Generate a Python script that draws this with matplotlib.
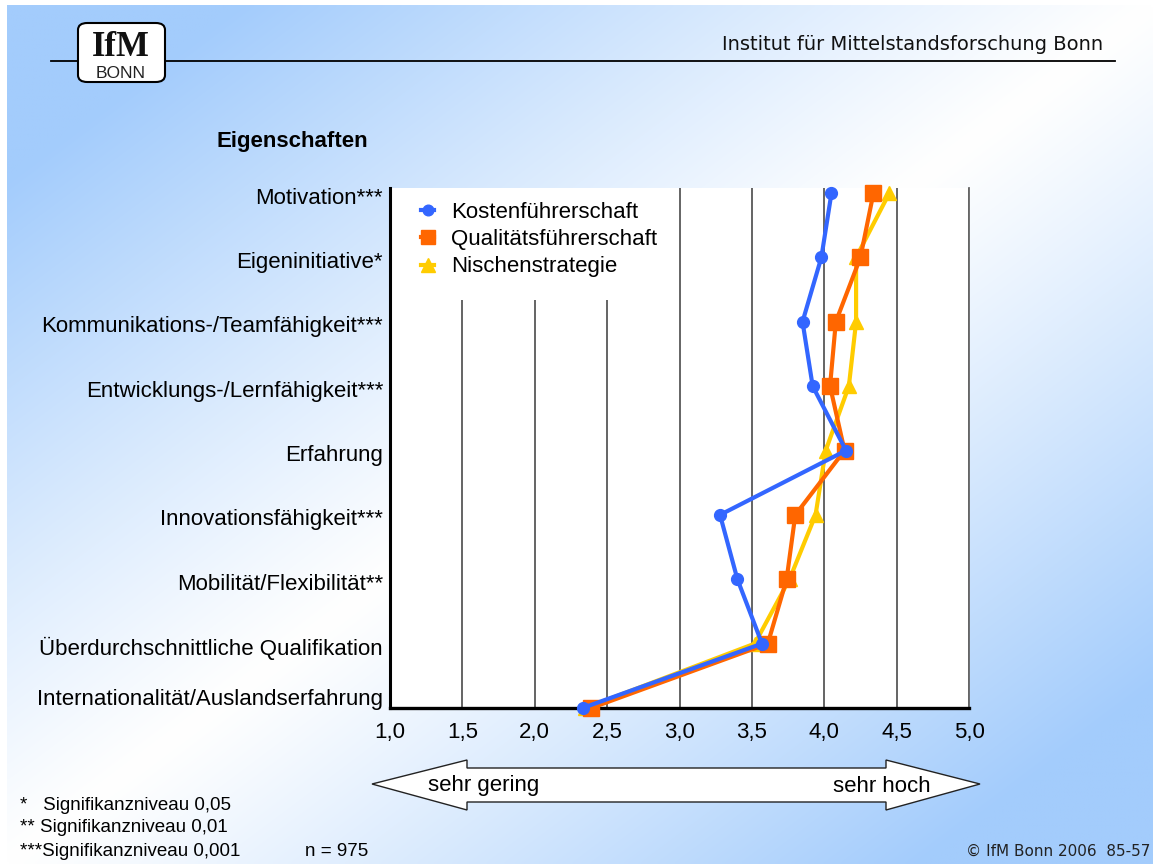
import numpy as np
import matplotlib
matplotlib.use("Agg")
import matplotlib.pyplot as plt
from matplotlib.patches import FancyBboxPatch, Polygon, Rectangle
from matplotlib.lines import Line2D
from matplotlib import font_manager
import matplotlib.transforms as mtransforms

# ---------------- data ----------------
categories = [
    "Motivation***",
    "Eigeninitiative*",
    "Kommunikations-/Teamfähigkeit***",
    "Entwicklungs-/Lernfähigkeit***",
    "Erfahrung",
    "Innovationsfähigkeit***",
    "Mobilität/Flexibilität**",
    "Überdurchschnittliche Qualifikation",
    "Internationalität/Auslandserfahrung",
]
kosten = [4.05, 3.98, 3.85, 3.92, 4.15, 3.28, 3.40, 3.57, 2.33]
qualitaet = [4.34, 4.25, 4.08, 4.04, 4.14, 3.80, 3.74, 3.61, 2.39]
nische = [4.45, 4.22, 4.22, 4.17, 4.01, 3.94, 3.76, 3.52, 2.35]
series_names = ["Kostenführerschaft", "Qualitätsführerschaft", "Nischenstrategie"]
xticks = [1.0, 1.5, 2.0, 2.5, 3.0, 3.5, 4.0, 4.5, 5.0]
xticklabels = ["1,0", "1,5", "2,0", "2,5", "3,0", "3,5", "4,0", "4,5", "5,0"]
footnotes = ["*   Signifikanzniveau 0,05", "** Signifikanzniveau 0,01", "***Signifikanzniveau 0,001"]

# ---------------- figure ----------------
W, H = 1153, 864
fig = plt.figure(figsize=(W / 100, H / 100), dpi=100)
fig.patch.set_facecolor("white")

def fx(x):
    return x / W

def fy(y):
    return 1 - y / H

ARIAL = ["Liberation Sans", "DejaVu Sans"]
names = {f.name for f in font_manager.fontManager.ttflist}
if "Liberation Sans Narrow" in names:
    NARROW, NARROW_SIZE = ["Liberation Sans Narrow", "Liberation Sans"], 16
else:
    NARROW, NARROW_SIZE = ARIAL, 13.5

# background gradient
bg = fig.add_axes([fx(7), 0, 1 - fx(7), fy(5)])
bg.set_axis_off()
bg.set_zorder(-10)
nx, ny = 300, 230
xs = np.linspace(0, 1, nx)[None, :]
ys = np.linspace(0, 1, ny)[:, None]
t = (xs + ys) / 2
b = np.clip(np.abs(2 * t - 1) * 1.25, 0, 1) ** 1.1
blue = np.array([163, 204, 252]) / 255
white = np.array([1.0, 1.0, 1.0])
img = white[None, None, :] * (1 - b[..., None]) + blue[None, None, :] * b[..., None]
bg.imshow(img, aspect="auto", extent=[0, 1, 1, 0], interpolation="bilinear")
bg.set_xlim(0, 1)
bg.set_ylim(1, 0)

# header line and text
fig.add_artist(Line2D([fx(51), fx(1115)], [fy(61), fy(61)], color="black", lw=1.3, transform=fig.transFigure))
fig.text(fx(1103), fy(45), "Institut für Mittelstandsforschung Bonn", ha="right", va="center",
         fontsize=14, family=["DejaVu Sans"], color="#111111")

# logo
logo = FancyBboxPatch((fx(78), fy(82)), fx(165) - fx(78), fy(23) - fy(82),
                      boxstyle="round,pad=0,rounding_size=0.008", transform=fig.transFigure,
                      facecolor="white", edgecolor="black", lw=1.5, zorder=3)
fig.add_artist(logo)
fig.text(fx(121), fy(56), "IfM", ha="center", va="baseline", fontsize=25, fontweight="bold",
         family=["Liberation Serif", "DejaVu Serif"], color="#111111", zorder=4)
fig.text(fx(121), fy(78.5), "BONN", ha="center", va="baseline", fontsize=12.5,
         family=ARIAL, color="#222222", zorder=4)

# section title
fig.text(fx(292), fy(142), "Eigenschaften", ha="center", va="center", fontsize=16,
         fontweight="bold", family=ARIAL)

# ---------------- main axes ----------------
ax = fig.add_axes([fx(390), fy(708), fx(969) - fx(390), fy(188) - fy(708)])
ax.set_facecolor("white")
ax.set_xlim(1.0, 5.0)
ypos = np.arange(len(categories))
ax.set_ylim(len(categories) - 1, -0.078)
ax.set_axisbelow(True)
ax.set_xticks(xticks)
ax.set_xticklabels(xticklabels, fontsize=16, family=ARIAL)
ax.tick_params(axis="x", length=0, pad=10)
ax.set_yticks([])
ax.xaxis.grid(True, color="#3a3a3a", lw=1.1)
ax.spines["top"].set_visible(False)
ax.spines["left"].set_color("black")
ax.spines["left"].set_linewidth(2.2)
ax.spines["bottom"].set_color("black")
ax.spines["bottom"].set_linewidth(2.4)
ax.spines["right"].set_color("#666666")
ax.spines["right"].set_linewidth(1.3)

# white box behind legend (hides grid lines)
ax.add_patch(Rectangle((0, 1 - (300 - 188) / 520), (672 - 390) / 579, (300 - 188) / 520,
                       transform=ax.transAxes, facecolor="white", edgecolor="none", zorder=1))

# category labels
ytrans = ax.get_yaxis_transform()
for i, lab in enumerate(categories):
    dy = -5 if i < len(categories) - 1 else 8
    tr = ytrans + mtransforms.ScaledTranslation(-7 / 100, dy / 100, fig.dpi_scale_trans)
    ax.text(0, ypos[i], lab, transform=tr, ha="right", va="center", fontsize=16, family=ARIAL)

# data lines
ln_n, = ax.plot(nische, ypos, color="#FFCC00", lw=3, marker="^", ms=10.5, mec="#FFCC00",
                zorder=3, clip_on=False, solid_joinstyle="miter")
ln_q, = ax.plot(qualitaet, ypos, color="#FF6600", lw=3, marker="s", ms=11, mec="#FF6600",
                zorder=4, clip_on=False, solid_joinstyle="miter")
ln_k, = ax.plot(kosten, ypos, color="#3366FF", lw=3, marker="o", ms=8.5, mec="#3366FF",
                zorder=5, clip_on=False, solid_joinstyle="miter")

leg = ax.legend([ln_k, ln_q, ln_n], series_names, loc="upper left",
                bbox_to_anchor=(fx(421), fy(202)), bbox_transform=fig.transFigure,
                frameon=False, prop={"family": ARIAL, "size": 16},
                handlelength=0.6, handletextpad=0.75, labelspacing=0.28,
                borderpad=0, borderaxespad=0, markerscale=0.9)
leg.set_zorder(6)

# ---------------- bottom arrow ----------------
arrow_px = [(372, 784), (467, 760), (467, 768), (886, 768), (886, 760), (980, 784),
            (886, 810), (886, 802), (467, 802), (467, 810)]
arrow = Polygon([(fx(x), fy(y)) for x, y in arrow_px], closed=True, transform=fig.transFigure,
                facecolor="white", edgecolor="#222222", lw=1.0)
fig.add_artist(arrow)
fig.text(fx(428), fy(786), "sehr gering", ha="left", va="center", fontsize=16, family=ARIAL)
fig.text(fx(931), fy(786), "sehr hoch", ha="right", va="center", fontsize=16, family=ARIAL)

# footnotes
for i, note in enumerate(footnotes):
    fig.text(fx(20), fy(805 + 23 * i), note, ha="left", va="center", fontsize=NARROW_SIZE, family=NARROW)
fig.text(fx(305), fy(851), "n = 975", ha="left", va="center", fontsize=NARROW_SIZE, family=NARROW)
fig.text(fx(1150), fy(851), "© IfM Bonn 2006  85-57", ha="right", va="center", fontsize=11,
         family=["DejaVu Sans"], color="#222222")

fig.savefig("out.png", dpi=100)
